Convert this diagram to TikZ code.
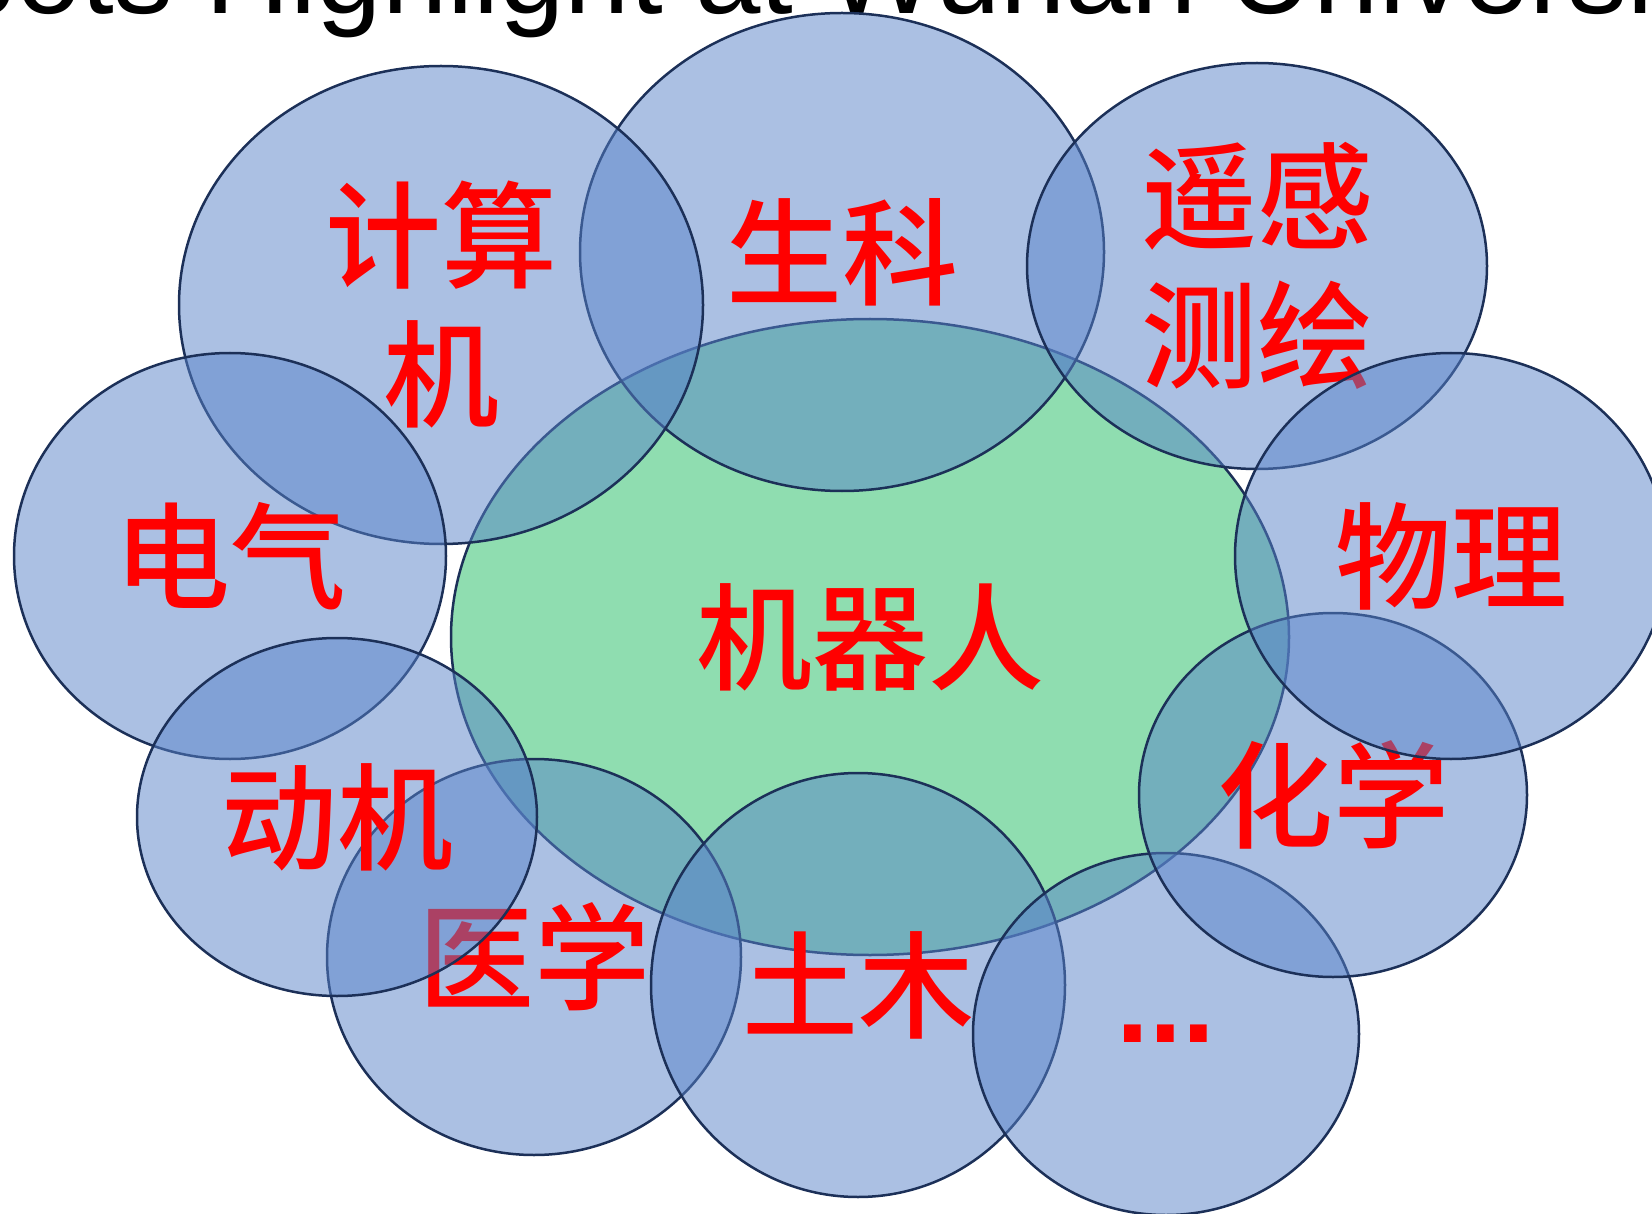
\documentclass[tikz,border=0pt]{standalone}
\usepackage{fontspec}
\setmainfont{Liberation Sans}
\newfontfamily\cjk{Noto Sans CJK SC Medium}
\usetikzlibrary{shapes.geometric}
\definecolor{blobblue}{RGB}{88,130,200}
\definecolor{edgeblue}{RGB}{28,48,88}
\definecolor{coregreen}{RGB}{143,221,176}
\tikzset{
  blob/.style={ellipse, draw=edgeblue, line width=2.5pt, fill=blobblue,
    fill opacity=0.5, draw opacity=1, text opacity=1, inner sep=0pt},
  core/.style={ellipse, draw=edgeblue, line width=2.5pt, fill=coregreen, inner sep=0pt},
  zh/.style={font=\cjk\fontsize{116}{139}\selectfont, text=red, align=center},
  dots/.style={font=\bfseries\fontsize{118}{140}\selectfont, text=red},
  title/.style={font=\fontsize{117.5}{140}\selectfont, text=black, inner sep=0pt, anchor=base west}
}
\begin{document}
\begin{tikzpicture}[x=1pt,y=-1pt]
\useasboundingbox (0,0) rectangle (1652,1214);
\clip (0,0) rectangle (1652,1214);
\node[title] (ttl) at (-199.2,13.5) {Robots Highlight at Wuhan University};
\node[core, zh, minimum width=838pt, minimum height=636pt] (jqr) at (870,637) {机器人};
\node[blob, zh, minimum width=524pt, minimum height=478pt] (sk) at (842,252) {生科};
\node[blob, zh, minimum width=524pt, minimum height=478pt] (jsj) at (441,305) {计算\\机};
\node[blob, zh, minimum width=432pt, minimum height=406pt] (dq) at (230,556) {电气};
\node[blob, zh, minimum width=414pt, minimum height=396pt] (yx) at (534,957) {医学};
\node[blob, zh, minimum width=400pt, minimum height=358pt] (dj) at (337,817) {动机};
\node[blob, zh, minimum width=414pt, minimum height=424pt] (tm) at (858,985) {土木};
\node[blob, dots, minimum width=386pt, minimum height=362pt] (etc) at (1166,1034) {...};
\node[blob, zh, minimum width=388pt, minimum height=364pt] (hx) at (1333,795) {化学};
\node[blob, zh, minimum width=460pt, minimum height=406pt] (yg) at (1257,266) {遥感\\测绘};
\node[blob, zh, minimum width=432pt, minimum height=406pt] (wl) at (1451,556) {物理};
\end{tikzpicture}
\end{document}
